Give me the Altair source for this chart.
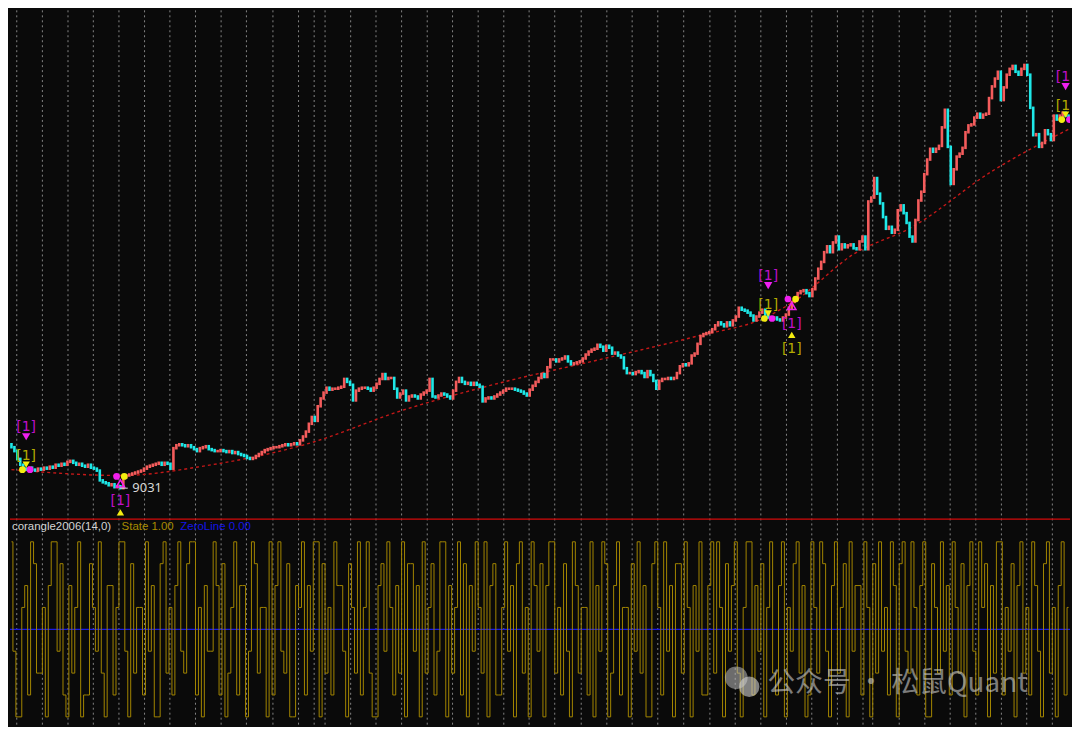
import altair as alt
import pandas as pd

# ---------------- data ----------------
closes = [
    9451, 9411, 9331, 9271, 9231, 9221, 9241, 9221, 9211, 9231,
    9221, 9241, 9231, 9251, 9241, 9271, 9261, 9281, 9271, 9301,
    9311, 9291, 9271, 9281, 9261, 9251, 9271, 9241, 9231, 9211,
    9111, 9091, 9081, 9061, 9071, 9041, 9051, 9031, 9141, 9161,
    9171, 9181, 9191, 9201, 9211, 9231, 9251, 9261, 9271, 9281,
    9291, 9271, 9291, 9281, 9231, 9441, 9471, 9481, 9471, 9461,
    9471, 9451, 9431, 9411, 9441, 9451, 9461, 9431, 9421, 9411,
    9411, 9421, 9411, 9401, 9411, 9391, 9401, 9381, 9371, 9361,
    9341, 9331, 9341, 9361, 9381, 9401, 9421, 9431, 9441, 9451,
    9451, 9461, 9471, 9481, 9471, 9481, 9491, 9481, 9521, 9561,
    9611, 9691, 9761, 9721, 9871, 9951, 10011, 10061, 10041, 10051,
    10051, 10061, 10071, 10151, 10121, 10091, 9931, 10031, 10051, 10061,
    10061, 10051, 10031, 10061, 10101, 10151, 10201, 10151, 10161, 10161,
    10051, 9961, 10001, 10031, 9931, 9971, 9981, 9971, 9951, 9991,
    10011, 10031, 10151, 9971, 9961, 9981, 10001, 9991, 9971, 9951,
    10031, 10121, 10161, 10121, 10101, 10111, 10091, 10111, 10091, 10071,
    9921, 9951, 9961, 9951, 9971, 9991, 10011, 10031, 10051, 10051,
    10051, 10041, 10031, 10021, 10001, 9981, 10041, 10081, 10121, 10161,
    10201, 10171, 10271, 10351, 10351, 10331, 10351, 10361, 10381, 10331,
    10301, 10311, 10321, 10331, 10361, 10401, 10431, 10451, 10461, 10501,
    10481, 10441, 10491, 10471, 10411, 10421, 10391, 10371, 10261, 10211,
    10211, 10201, 10221, 10231, 10211, 10171, 10231, 10191, 10131, 10051,
    10131, 10151, 10151, 10161, 10151, 10161, 10211, 10281, 10301, 10291,
    10311, 10391, 10411, 10511, 10591, 10611, 10621, 10631, 10661, 10701,
    10731, 10711, 10691, 10731, 10701, 10751, 10791, 10881, 10861, 10851,
    10831, 10801, 10751, 10791, 10831, 10861, 10811, 10781, 10771, 10781,
    10761, 10751, 10781, 10811, 10881, 10941, 10971, 11031, 11051, 11061,
    11031, 11001, 11071, 11181, 11281, 11351, 11451, 11511, 11451, 11551,
    11611, 11481, 11531, 11501, 11521, 11531, 11491, 11481, 11561, 11611,
    11481, 11971, 12011, 12211, 12051, 11951, 11811, 11691, 11711, 11651,
    11681, 11881, 11931, 11851, 11751, 11611, 11561, 11781, 11981, 12071,
    12251, 12401, 12511, 12481, 12511, 12541, 12731, 12911, 12531, 12151,
    12301, 12431, 12461, 12521, 12681, 12751, 12761, 12831, 12871, 12831,
    12861, 12871, 13031, 13151, 13231, 13301, 13011, 13141, 13271, 13331,
    13361, 13301, 13271, 13331, 13371, 13271, 12931, 12651, 12661, 12531,
    12571, 12701, 12661, 12601, 12851, 12811, 12851, 12881, 12851, 12811,
]
first_open = 9481

state = [
    1, -0.25, -1, -1, 0.25, 0.5, -0.75, 1, 0.75, -0.5, -0.5, 0.25, -1, 0.5, 1, 1, -0.25, 0.75, -0.75, -1,
    0.5, -0.5, 0.25, 1, -1, -0.75, -0.75, 0.75, 0.25, -0.25, 1, -0.5, -1, 0.5, 0.5, -0.75, 0.25, 1, 1, -0.25,
    -1, 0.75, -0.5, 0.25, 0.25, -0.75, 1, -0.25, 0.5, -1, -1, 0.75, 1, -0.5, 0.25, -0.75, 0.5, 1, -0.25, -0.5,
    0.75, 1, 1, -0.75, 0.25, -1, 0.5, -0.25, -0.25, 1, 0.5, -0.75, 0.75, -1, -0.5, 0.25, 1, -0.75, 0.5, 0.5,
    -1, -0.25, 1, 0.75, -0.5, 0.25, 0.25, -1, 1, -0.75, 0.5, 1, -0.25, -0.5, 0.75, -1, -1, 0.5, 0.25, 1,
    -0.75, 0.5, -0.25, 1, 1, -1, 0.75, -0.5, 0.25, -0.75, 1, 0.5, 0.5, -0.25, -1, 0.75, 0.25, -0.5, 1, -0.75,
    0.25, 1, -0.5, -1, -1, 0.5, 0.75, -0.25, 1, 0.25, -0.75, 0.5, -0.5, 1, -1, 0.75, 0.75, -0.25, 0.5, -1,
    1, -0.5, 0.25, 0.75, -0.75, -0.25, 1, 1, -1, 0.5, -0.5, 0.25, 1, -0.75, 0.75, -1, 0.5, -0.25, 1, 0.25,
    -0.5, 1, -1, 0.5, 0.75, -0.75, -0.75, 0.25, 1, -0.25, 0.5, -1, 0.75, 1, -0.5, 0.25, -1, 1, 0.5, -0.25,
    0.75, -1, 0.5, 1, 1, -0.5, 0.25, -0.75, 0.75, -0.25, -1, 1, 0.5, -0.5, 0.25, 0.25, -0.75, 1, -1, 0.5,
    -0.25, 1, 0.75, -1, -0.5, 0.5, 1, -0.75, 0.25, 0.25, -1, 0.75, -0.25, 1, -0.5, 0.5, -1, -1, 0.75, 1,
    0.25, -0.75, 1, -0.25, 0.5, -1, 0.75, 0.75, -0.5, 1, 0.25, -1, 0.5, -0.25, 1, -0.75, -0.75, 0.5, 1, -0.5,
    1, 0.25, -1, 0.75, -0.25, 0.5, 1, -0.5, -1, 0.25, 1, 1, -0.75, 0.5, -0.25, 0.75, -1, 0.25, 1, -0.5,
    -0.75, 0.5, 1, -1, 0.25, -0.25, 0.75, 1, -0.5, 0.5, -1, -0.75, 1, 0.25, -0.5, 1, 0.75, -0.25, -1, 0.5,
    1, -0.5, 0.25, 0.75, -1, 1, -0.25, 0.5, 0.5, -0.75, 1, 0.25, -1, 0.75, -0.5, 1, -0.25, 0.25, -0.75, 1,
    0.5, -1, 0.75, 1, -0.25, -0.5, 1, 0.25, -0.75, 0.5, 1, -1, -1, 0.75, 0.25, -0.5, 1, -0.25, 0.5, -0.75,
    1, 0.25, -0.5, 0.75, -1, 0.5, 1, -0.25, -0.75, 1, 0.25, 0.75, -1, 0.5, -0.5, 1, 1, -0.75, 0.25, -0.25,
    0.75, -1, 0.5, 1, -0.5, 0.25, -0.75, 1, 0.5, -0.25, -1, 0.75, 1, -0.5, 0.25, -1, 0.5, 1, -0.75, 0.25,
]

# period boundaries (bar positions of the dotted vertical separators)
grid_bars = [1.8, 10.5, 19.2, 27.8, 36.5, 45.2, 53.8, 62.5, 71.2, 79.8, 88.8, 97.5,
             102.8, 106.5, 115.2, 123.8, 132.5, 141.2, 149.8, 158.5, 167.2, 175.8,
             184.5, 193.5, 202.2, 210.8, 219.5, 228.3, 237.2, 245.8, 254.5, 263.2,
             271.8, 280.5, 289.2, 292.5, 301.5, 310.2, 318.8, 327.5, 336.2, 344.8, 353.5]

# red dotted trend curve
trend_bars = [0, 37, 66, 100, 133, 166, 200, 233, 256, 266, 286, 306, 333, 359]
trend_vals = [9221, 9161, 9261, 9481, 9831, 10111, 10351, 10591, 10781, 10951,
              11431, 11711, 12281, 12711]

# signals
sig_bar = [5, 37, 257, 265, 358]
sig_price = [9221, 9151, 10771, 10971, 12811]
sig_side = ["sell", "buy", "sell", "buy", "sell"]

low_bar = 37
low_price = 9031

title_parts = ["corangle2006(14,0)", "State 1.00", "ZeroLine 0.00"]
watermark = "公众号 · 松鼠Quant"

# ---------------- frames ----------------
opens = [first_open] + closes[:-1]
candles = pd.DataFrame({
    "bar": list(range(len(closes))),
    "open": opens,
    "close": closes,
})
candles["dir"] = ["up" if c >= o else "down" for o, c in zip(opens, closes)]

state_df = pd.DataFrame({"bar": list(range(len(state))), "state": state})
grid_df = pd.DataFrame({"bar": grid_bars})
trend_df = pd.DataFrame({"bar": trend_bars, "price": trend_vals})
sig_df = pd.DataFrame({"bar": sig_bar, "price": sig_price, "side": sig_side})
low_df = pd.DataFrame({"bar": [low_bar], "price": [low_price], "label": [str(low_price)]})

W = 1064
H1 = 508
H2 = 207
NB = len(closes)

xscale = alt.Scale(domain=[-0.5, NB - 0.5], nice=False, zero=False)
yprice = alt.Scale(domain=[8741, 13931], nice=False, zero=False)
ystate = alt.Scale(domain=[-1.089, 1.267], nice=False, zero=False)

X = alt.X("bar:Q", scale=xscale, axis=None)

BG = "#0a0a0a"
GRID = "#858585"
MAG = "#f020f0"
MAGT = "#c010c8"
YEL = "#f4ec10"
YELT = "#b4aa00"

# ---------------- top panel ----------------
grid_top = alt.Chart(grid_df).mark_rule(color=GRID, strokeDash=[2, 3], strokeWidth=1).encode(x=X)

trend = alt.Chart(trend_df).mark_line(color="#c41818", strokeDash=[3, 3], strokeWidth=1.4,
                                      interpolate="monotone").encode(
    x=X, y=alt.Y("price:Q", scale=yprice, axis=None))

candle = alt.Chart(candles).mark_rule(strokeWidth=2.6, strokeCap="square").encode(
    x=X,
    y=alt.Y("open:Q", scale=yprice, axis=None),
    y2="close:Q",
    color=alt.Color("dir:N", scale=alt.Scale(domain=["up", "down"], range=["#f45c5c", "#1ee8e8"]),
                    legend=None),
)

Yp = alt.Y("price:Q", scale=yprice, axis=None)
sell = alt.Chart(sig_df).transform_filter(alt.datum.side == "sell")
buy = alt.Chart(sig_df).transform_filter(alt.datum.side == "buy")
# the lowest label of a buy signal near the panel bottom is hidden in the original
buy_high = buy.transform_filter(alt.datum.price > 9500)

def txt(base, dy, color):
    return base.mark_text(text="[1]", dy=dy, color=color, fontSize=14, font="DejaVu Sans",
                          clip=True).encode(x=X, y=Yp)

def tri(base, dy, color, shape, size=45, filled=True):
    return base.mark_point(shape=shape, filled=filled, color=color, size=size, opacity=1,
                           strokeWidth=1.5, yOffset=dy, clip=True).encode(x=X, y=Yp)

def dot(base, off, color):
    return base.transform_calculate(xb=f"datum.bar + ({off})").mark_circle(
        color=color, size=45, opacity=1, clip=True).encode(
        x=alt.X("xb:Q", scale=xscale, axis=None), y=Yp)

sell_layers = [
    txt(sell, -43, MAGT), tri(sell, -33, MAG, "triangle-down", 70),
    txt(sell, -14, YELT), tri(sell, -5, YEL, "triangle-down", 55),
    dot(sell, -1.3, YEL), dot(sell, 1.3, MAG),
]
buy_layers = [
    dot(buy, -1.3, MAG), dot(buy, 1.3, YEL),
    tri(buy, 7, MAG, "triangle-up", 70, False),
    txt(buy, 25, MAGT), tri(buy, 36, YEL, "triangle-up", 55),
    txt(buy_high, 50, YELT),
]

low_rule = alt.Chart(low_df).transform_calculate(b2="datum.bar + 2.5").mark_rule(
    color="#e0e0e0", strokeWidth=1).encode(
    x=X, x2="b2:Q", y=alt.Y("price:Q", scale=yprice, axis=None))
low_text = alt.Chart(low_df).mark_text(align="left", dx=12, color="#d8d8d8", fontSize=13,
                                       font="Noto Sans").encode(
    x=X, y=alt.Y("price:Q", scale=yprice, axis=None), text="label:N")

top = alt.layer(grid_top, trend, candle, *sell_layers, *buy_layers, low_rule, low_text).properties(
    width=W, height=H1)

# ---------------- bottom panel ----------------
grid_bot = alt.Chart(grid_df).mark_rule(color=GRID, strokeDash=[2, 3], strokeWidth=1).encode(x=X)

sep = alt.Chart(pd.DataFrame({"v": [0]})).mark_rule(color="#d40a0a", strokeWidth=1.4).encode(
    x=alt.value(0), x2=alt.value(W), y=alt.value(0.7))

zero = alt.Chart(pd.DataFrame({"z": [0.0]})).mark_rule(color="#1a1ae6", strokeWidth=1.3).encode(
    y=alt.Y("z:Q", scale=ystate, axis=None))

state_line = alt.Chart(state_df).mark_line(interpolate="step", color="#a38600", strokeWidth=1.0).encode(
    x=X, y=alt.Y("state:Q", scale=ystate, axis=None))

hdr = []
for t, c, xx in zip(title_parts, ["#d4d4d4", "#a88a00", "#1414e6"], [2, 112, 171]):
    hdr.append(alt.Chart(pd.DataFrame({"t": [t]})).mark_text(
        align="left", baseline="middle", color=c, fontSize=11.5, font="Liberation Sans").encode(
        x=alt.value(xx), y=alt.value(9), text="t:N"))

icon1 = alt.Chart(pd.DataFrame({"k": [1]})).mark_circle(color="#bdbdbd", opacity=0.55, size=520).encode(
    x=alt.value(729), y=alt.value(160))
icon2 = alt.Chart(pd.DataFrame({"k": [1]})).mark_circle(color="#d0d0d0", opacity=0.6, size=420).encode(
    x=alt.value(742), y=alt.value(169))
wm = alt.Chart(pd.DataFrame({"t": [watermark]})).mark_text(
    align="left", baseline="middle", color="#c8c8c8", opacity=0.6, fontSize=28,
    font="Noto Sans CJK SC").encode(x=alt.value(760), y=alt.value(166), text="t:N")

bottom = alt.layer(grid_bot, zero, state_line, sep, *hdr, icon1, icon2, wm).properties(
    width=W, height=H2)

chart = alt.vconcat(top, bottom, spacing=0).properties(
    padding=0, background=BG
).configure_view(stroke=None).resolve_scale(color="independent")

chart.save("out.html", embed_options={"renderer": "svg", "actions": False})
